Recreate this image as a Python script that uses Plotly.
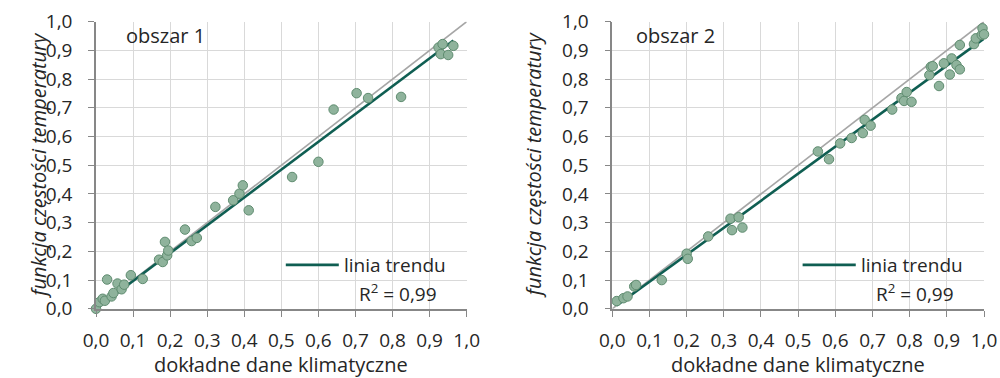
import numpy as np
import plotly.graph_objects as go

# obszar 1: dokładne dane klimatyczne (x) vs funkcja częstości temperatury (y)
area1_x = [0.000, 0.009, 0.018, 0.024, 0.030, 0.042, 0.047, 0.058, 0.069, 0.076,
           0.094, 0.126, 0.170, 0.180, 0.186, 0.192, 0.195, 0.240, 0.258, 0.272,
           0.322, 0.370, 0.387, 0.396, 0.412, 0.529, 0.600, 0.641, 0.703, 0.734,
           0.823, 0.924, 0.930, 0.935, 0.950, 0.964]
area1_y = [0.000, 0.023, 0.035, 0.028, 0.102, 0.043, 0.055, 0.088, 0.068, 0.084,
           0.117, 0.104, 0.171, 0.163, 0.233, 0.186, 0.203, 0.276, 0.236, 0.247,
           0.355, 0.378, 0.401, 0.430, 0.343, 0.459, 0.512, 0.694, 0.751, 0.734,
           0.738, 0.910, 0.887, 0.922, 0.884, 0.916]

# obszar 2
area2_x = [0.012, 0.030, 0.041, 0.059, 0.064, 0.133, 0.200, 0.203, 0.258, 0.318,
           0.322, 0.340, 0.350, 0.553, 0.583, 0.613, 0.644, 0.674, 0.679, 0.695,
           0.753, 0.778, 0.785, 0.792, 0.805, 0.853, 0.857, 0.862, 0.879, 0.892,
           0.908, 0.913, 0.926, 0.935, 0.935, 0.973, 0.978, 0.994, 0.996, 1.000]
area2_y = [0.027, 0.037, 0.043, 0.078, 0.083, 0.100, 0.192, 0.174, 0.252, 0.314,
           0.274, 0.319, 0.283, 0.548, 0.521, 0.576, 0.595, 0.612, 0.658, 0.638,
           0.694, 0.734, 0.724, 0.755, 0.721, 0.814, 0.843, 0.845, 0.776, 0.855,
           0.816, 0.872, 0.849, 0.834, 0.919, 0.922, 0.942, 0.954, 0.977, 0.956]

tick_vals = [0.0, 0.1, 0.2, 0.3, 0.4, 0.5, 0.6, 0.7, 0.8, 0.9, 1.0]
panel_labels = ["obszar 1", "obszar 2"]
trend_label = "linia trendu"
x_title = "dokładne dane klimatyczne"
y_title = "funkcja częstości temperatury"

W, H = 1000, 378
FONT = "Open Sans"
TEXT = "#262626"
MARKER_FILL = "#8fb39c"
MARKER_EDGE = "#5f8c70"
TREND = "#0f5e52"
DIAG = "#a6a6a6"
GRID = "#d9d9d9"
AXIS = "#878787"
TXT_SIZE = 20
LEG_SIZE = 19
TICK_SIZE = 19

panels = [(area1_x, area1_y), (area2_x, area2_y)]
# plot areas in pixels: (left, right), shared (top, bottom)
x_px = [(96.0, 466.7), (612.3, 984.0)]
y_px = (21.7, 308.8)
y_title_px = [38.5, 533.0]


def px_x(v):
    return v / W


def px_y(v):
    return 1 - v / H


fig = go.Figure()

for i, (xs, ys) in enumerate(panels):
    xs = np.array(xs)
    ys = np.array(ys)
    sfx = "" if i == 0 else str(i + 1)
    xa, ya = "x" + sfx, "y" + sfx

    # 1:1 reference line
    fig.add_trace(go.Scatter(
        x=[0, 1], y=[0, 1], mode="lines", xaxis=xa, yaxis=ya,
        line=dict(color=DIAG, width=1.6), showlegend=False, hoverinfo="skip",
        cliponaxis=False))

    # linear trend with the intercept fixed at zero
    slope = float(np.sum(xs * ys) / np.sum(xs * xs))
    resid = ys - slope * xs
    r2 = 1 - np.sum(resid ** 2) / np.sum((ys - ys.mean()) ** 2)
    tx = np.array([xs.min(), xs.max()])
    fig.add_trace(go.Scatter(
        x=tx, y=slope * tx, mode="lines", xaxis=xa, yaxis=ya,
        line=dict(color=TREND, width=2.6), showlegend=False, cliponaxis=False))

    # observations
    fig.add_trace(go.Scatter(
        x=xs, y=ys, mode="markers", xaxis=xa, yaxis=ya,
        marker=dict(size=9.5, color=MARKER_FILL,
                    line=dict(color=MARKER_EDGE, width=1)),
        showlegend=False, cliponaxis=False))

    # panel label
    fig.add_annotation(
        text=panel_labels[i], xref=xa + " domain", yref=ya + " domain",
        x=0.075 if i == 0 else 0.058, y=0.951, xanchor="left", yanchor="middle",
        showarrow=False, font=dict(family=FONT, size=TXT_SIZE, color=TEXT))

    # trend legend
    fig.add_shape(
        type="line", xref=xa + " domain", yref=ya + " domain",
        x0=0.512, x1=0.655, y0=0.153, y1=0.153,
        line=dict(color=TREND, width=2.6))
    fig.add_annotation(
        text=trend_label, xref=xa + " domain", yref=ya + " domain",
        x=0.664, y=0.153, xanchor="left", yanchor="middle",
        showarrow=False, font=dict(family=FONT, size=LEG_SIZE, color=TEXT))
    r2_txt = f"{r2:.2f}".replace(".", ",")
    fig.add_annotation(
        text=f"R<sup>2</sup> = {r2_txt}", xref=xa + " domain", yref=ya + " domain",
        x=0.815, y=0.055, xanchor="center", yanchor="middle",
        showarrow=False, font=dict(family=FONT, size=LEG_SIZE, color=TEXT))

    # axis titles
    fig.add_annotation(
        text=x_title, xref="paper", yref="paper",
        x=px_x(sum(x_px[i]) / 2), y=px_y(364.5), xanchor="center", yanchor="middle",
        showarrow=False, font=dict(family=FONT, size=TXT_SIZE, color=TEXT))
    fig.add_annotation(
        text=f"<i>{y_title}</i>", xref="paper", yref="paper", textangle=-90,
        x=px_x(y_title_px[i]), y=px_y(sum(y_px) / 2),
        xanchor="center", yanchor="middle",
        showarrow=False, font=dict(family=FONT, size=TXT_SIZE, color=TEXT))

axis_common = dict(
    range=[0, 1], tickvals=tick_vals, tickformat=".1f",
    showgrid=True, gridcolor=GRID, gridwidth=1,
    showline=True, linecolor=AXIS, linewidth=1.5,
    ticks="outside", ticklen=6, tickcolor=AXIS, tickwidth=1.3,
    zeroline=False, tickfont=dict(family=FONT, size=TICK_SIZE, color=TEXT),
    automargin=False, fixedrange=True,
)

layout = dict(
    width=W, height=H,
    margin=dict(l=0, r=0, t=0, b=0, autoexpand=False),
    paper_bgcolor="white", plot_bgcolor="white",
    separators=", ",
    showlegend=False,
    font=dict(family=FONT, color=TEXT),
)
for i in range(2):
    sfx = "" if i == 0 else str(i + 1)
    layout["xaxis" + sfx] = dict(
        axis_common, domain=[px_x(x_px[i][0]), px_x(x_px[i][1])],
        anchor="y" + sfx, ticklabelstandoff=8)
    layout["yaxis" + sfx] = dict(
        axis_common, domain=[px_y(y_px[1]), px_y(y_px[0])],
        anchor="x" + sfx, ticklabelstandoff=12)

fig.update_layout(**layout)
fig.write_html("out.html")
